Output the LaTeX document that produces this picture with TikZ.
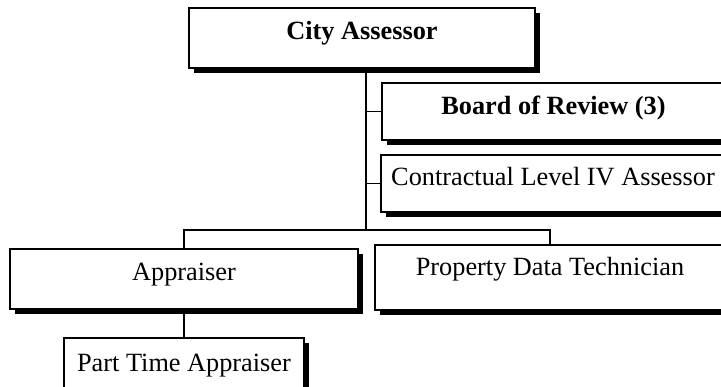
\documentclass[tikz,border=0pt]{standalone}
\usepackage{fontspec}
\setmainfont{Liberation Serif}
\usetikzlibrary{shadows}
\begin{document}
\begin{tikzpicture}[x=1pt,y=-1pt,
  box/.style={draw, line width=1.4pt, fill=white, inner sep=0pt,
    font=\fontsize{26.3}{30}\selectfont, text depth=0pt,
    drop shadow={shadow xshift=4.5pt, shadow yshift=-5.5pt, fill=black, opacity=1}},
  conn/.style={line width=1.4pt}]
\useasboundingbox (0,0) rectangle (721,387);
\clip (0,0) rectangle (721,387);
\node[box, minimum width=346pt, minimum height=60pt, text height=3pt, text depth=0pt, font=\fontsize{26.3}{30}\selectfont\bfseries] (ca) at (362,38) {City Assessor};
\node[box, minimum width=343pt, minimum height=57pt, text height=7pt, font=\fontsize{26.3}{30}\selectfont\bfseries] (br) at (553.5,111.5) {Board of Review (3)};
\node[box, minimum width=344pt, minimum height=57pt, text height=5pt] (cl) at (553,183.5) {Contractual Level IV Assessor};
\node[box, minimum width=348pt, minimum height=60pt, text height=4pt] (ap) at (184,279) {Appraiser};
\node[box, minimum width=350pt, minimum height=65pt, text height=0pt, text depth=3pt] (pdt) at (550,277.5) {Property Data Technician};
\node[box, minimum width=240pt, minimum height=57pt, text height=11pt] (pt) at (184,366.5) {Part Time Appraiser};
\coordinate (j) at (366,230);
\draw[conn] (ca.south -| j) -- (j);
\draw[conn] (j |- br.west) -- (br.west);
\draw[conn] (j |- cl.west) -- (cl.west);
\draw[conn] (ap.north) |- (pdt.north |- j) -- (pdt.north);
\draw[conn] (ap.south) -- (pt.north);
\end{tikzpicture}
\end{document}
